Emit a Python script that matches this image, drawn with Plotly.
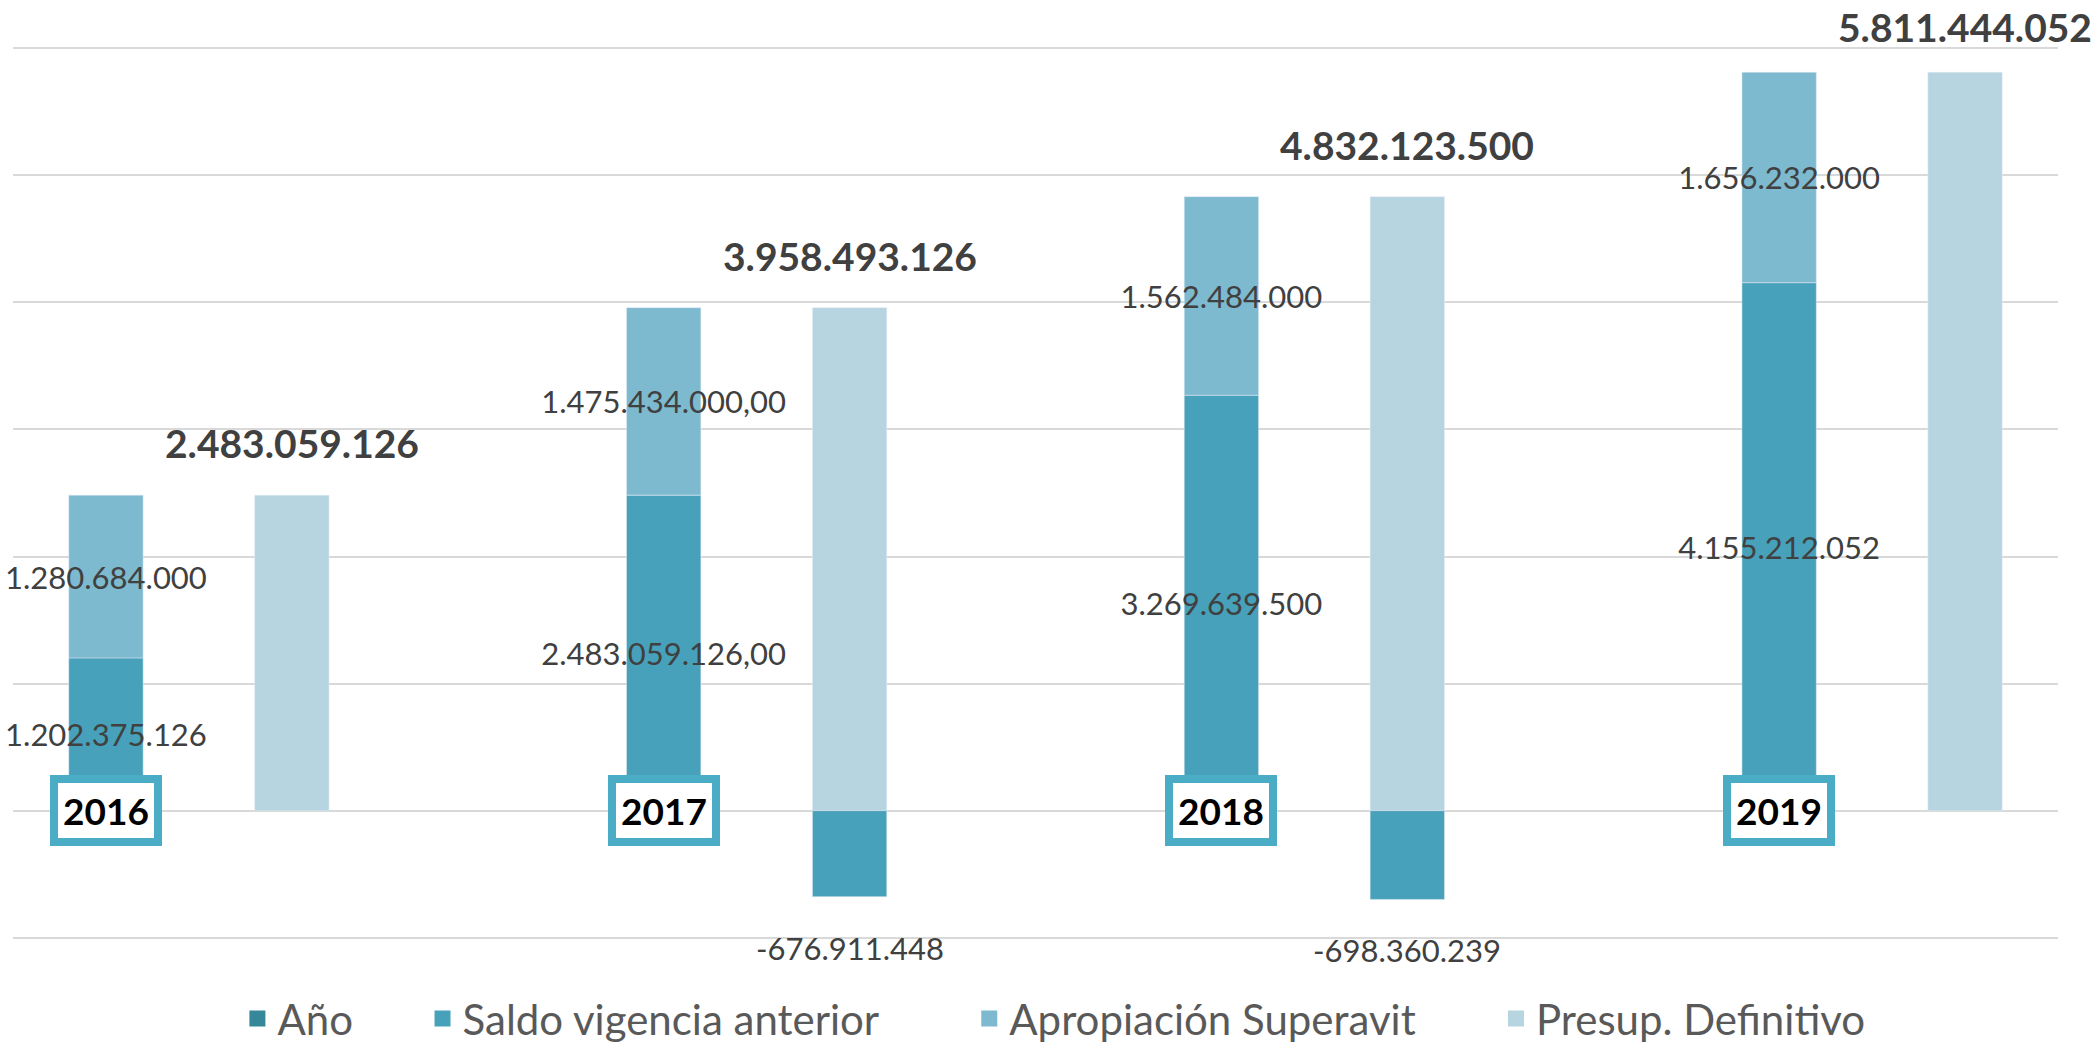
import plotly.graph_objects as go

## Datos
anios = ["2016", "2017", "2018", "2019"]
saldo = [1202375126, 2483059126, 3269639500, 4155212052]
superavit = [1280684000, 1475434000, 1562484000, 1656232000]
presupuesto = [2483059126, 3958493126, 4832123500, 5811444052]
ajuste = [None, -676911448, -698360239, None]

saldo_txt = ["1.202.375.126", "2.483.059.126,00", "3.269.639.500", "4.155.212.052"]
superavit_txt = ["1.280.684.000", "1.475.434.000,00", "1.562.484.000", "1.656.232.000"]
presup_txt = ["2.483.059.126", "3.958.493.126", "4.832.123.500", "5.811.444.052"]
ajuste_txt = [None, "-676.911.448", "-698.360.239", None]

series = ["Año", "Saldo vigencia anterior", "Apropiación Superavit", "Presup. Definitivo"]
colores = ["#37879B", "#47A1BA", "#7DB9CF", "#B7D5E0"]

FUENTE = "Lato"
GRIS = "#404040"

## cada año ocupa tres posiciones: barra apilada, barra total, hueco
x_izq = [3 * i for i in range(len(anios))]
x_der = [3 * i + 1 for i in range(len(anios))]

fig = go.Figure()

etiqueta = dict(textposition="inside", insidetextanchor="middle", textangle=0,
                constraintext="none", cliponaxis=False,
                insidetextfont=dict(family=FUENTE, size=31, color=GRIS))

fig.add_bar(x=x_izq, y=saldo, width=0.4, marker_color=colores[1], text=saldo_txt,
            showlegend=False, hoverinfo="skip", **etiqueta)
fig.add_bar(x=x_izq, y=superavit, width=0.4, marker_color=colores[2], text=superavit_txt,
            showlegend=False, hoverinfo="skip", **etiqueta)
fig.add_bar(x=x_der, y=presupuesto, width=0.4, marker_color=colores[3],
            showlegend=False, hoverinfo="skip")
fig.add_bar(x=x_der, y=ajuste, width=0.4, marker_color=colores[1],
            showlegend=False, hoverinfo="skip")

## entradas de leyenda (cuadros mas grandes que los de barra)
relleno = ["&nbsp;" * 6, "&nbsp;" * 8, "&nbsp;" * 7, ""]
for nombre, color, pad in zip(series, colores, relleno):
    fig.add_scatter(x=[None], y=[None], mode="markers", name=nombre + pad,
                    marker=dict(symbol="square", size=16, color=color))

notas = []
## el ultimo total queda algo mas pegado a la barra (borde superior)
desplaz = [52, 52, 52, 45]
for x, v, t, d in zip(x_der, presupuesto, presup_txt, desplaz):
    notas.append(dict(x=x, y=v, text="<b>" + t + "</b>", showarrow=False,
                      yanchor="middle", yshift=d,
                      font=dict(family=FUENTE, size=39, color=GRIS)))
for x, v, t in zip(x_der, ajuste, ajuste_txt):
    if v is None:
        continue
    notas.append(dict(x=x, y=v, text=t, showarrow=False, yanchor="middle", yshift=-51,
                      font=dict(family=FUENTE, size=31, color=GRIS)))
for x, a in zip(x_izq, anios):
    notas.append(dict(x=x, y=0, text="<b>" + a + "</b>", showarrow=False,
                      yanchor="middle", xanchor="center",
                      bgcolor="white", bordercolor="#4BACC6", borderwidth=8, borderpad=5,
                      font=dict(family=FUENTE, size=37, color="black")))

fig.update_layout(
    width=2095, height=1053,
    margin=dict(l=13, r=37, t=47, b=114, autoexpand=False),
    barmode="relative",
    paper_bgcolor="white", plot_bgcolor="white",
    font=dict(family=FUENTE, color=GRIS),
    annotations=notas,
    legend=dict(orientation="h", x=0.509, xanchor="center", y=-0.1275, yanchor="bottom",
                font=dict(family=FUENTE, size=42, color="#595959")),
    xaxis=dict(range=[-0.5, 10.5], showticklabels=False, showgrid=False, zeroline=False),
    yaxis=dict(range=[-1.01e9, 6.01e9], dtick=1e9, showticklabels=False,
               gridcolor="#D9D9D9", gridwidth=2,
               zeroline=True, zerolinecolor="#D9D9D9", zerolinewidth=2),
)

fig.write_html("out.html", config={"displayModeBar": False},
               post_script="document.body.style.margin='0';document.body.style.overflow='hidden';")
